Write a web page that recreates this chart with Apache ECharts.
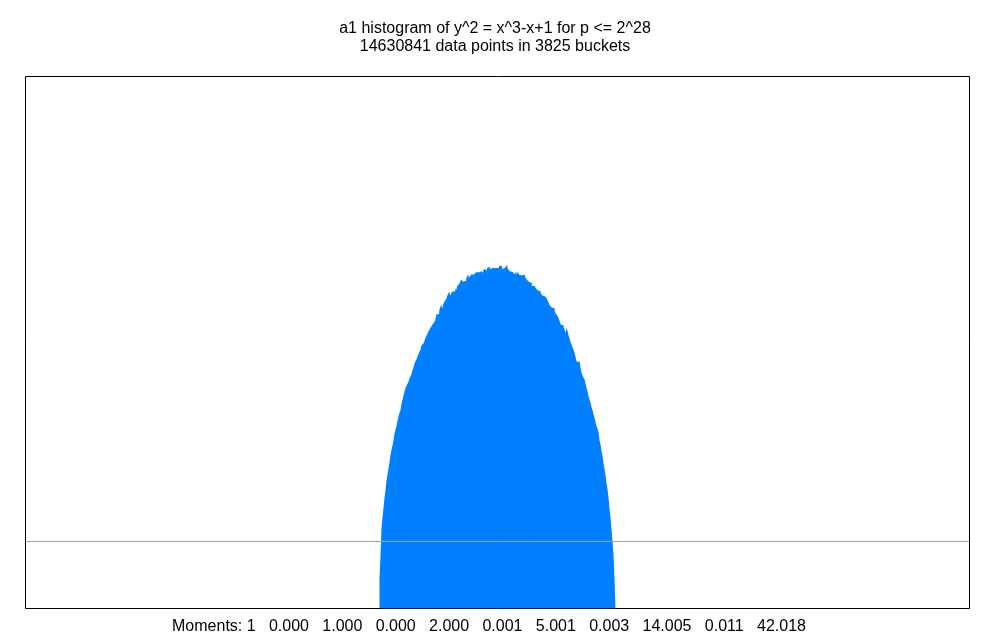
<!DOCTYPE html>
<html>
<head>
<meta charset="utf-8">
<script src="https://cdn.jsdelivr.net/npm/echarts@6/dist/echarts.min.js"></script>
<style>
  html, body { margin: 0; padding: 0; background: #fff; }
  #chart { width: 1000px; height: 640px; }
</style>
</head>
<body>
<div id="chart"></div>
<script>
// histogram range and bucket heights (density)
const bucketLo = -2
const bucketHi = 2
const density = [
  0.028, 0.050, 0.075, 0.086, 0.094, 0.104, 0.111, 0.120, 0.126, 0.131,
  0.137, 0.144, 0.149, 0.153, 0.158, 0.164, 0.168, 0.171, 0.176, 0.180,
  0.184, 0.186, 0.192, 0.192, 0.200, 0.200, 0.207, 0.208, 0.211, 0.213,
  0.216, 0.218, 0.220, 0.224, 0.226, 0.230, 0.231, 0.234, 0.235, 0.239,
  0.241, 0.243, 0.247, 0.248, 0.249, 0.251, 0.254, 0.256, 0.258, 0.260,
  0.262, 0.263, 0.265, 0.266, 0.268, 0.268, 0.271, 0.276, 0.276, 0.277,
  0.280, 0.281, 0.286, 0.282, 0.286, 0.288, 0.289,
  0.291, 0.294, 0.293, 0.298, 0.294, 0.296, 0.298, 0.298, 0.298, 0.301,
  0.299, 0.303, 0.303, 0.305, 0.305, 0.309, 0.309, 0.307, 0.307, 0.308,
  0.310, 0.310, 0.314, 0.311, 0.311, 0.314, 0.313, 0.314, 0.314, 0.314,
  0.316, 0.316, 0.316, 0.316, 0.316, 0.317, 0.315, 0.316, 0.319, 0.319,
  0.318, 0.320, 0.319, 0.321, 0.319, 0.319, 0.320, 0.320, 0.320, 0.320,
  0.320, 0.320, 0.320, 0.322, 0.322, 0.322, 0.319, 0.320, 0.320, 0.319,
  0.320, 0.323, 0.319, 0.318, 0.317, 0.317, 0.316, 0.316, 0.315, 0.314,
  0.317, 0.314, 0.317, 0.314, 0.314, 0.313, 0.313, 0.313, 0.314, 0.312,
  0.311, 0.309, 0.308, 0.307, 0.306, 0.306, 0.303, 0.303, 0.303, 0.303,
  0.301, 0.301, 0.299, 0.299, 0.298, 0.296, 0.295, 0.294, 0.294, 0.293,
  0.292, 0.294, 0.289, 0.289, 0.285, 0.285, 0.283, 0.282, 0.282, 0.279,
  0.277, 0.277, 0.275, 0.275,
  0.270, 0.267, 0.266, 0.266, 0.264, 0.262, 0.259, 0.264, 0.260, 0.256,
  0.253, 0.250, 0.248, 0.245, 0.243, 0.240, 0.236, 0.232, 0.232, 0.232,
  0.232, 0.226, 0.221, 0.219, 0.218, 0.215, 0.211, 0.207, 0.204, 0.199,
  0.196, 0.193, 0.189, 0.186, 0.185, 0.179, 0.175, 0.171, 0.169, 0.166,
  0.158, 0.154, 0.148, 0.143, 0.136, 0.131, 0.125, 0.118, 0.112, 0.104,
  0.094, 0.085, 0.075, 0.063, 0.051, 0.028
]
const refLevel = 0.063
const xRange = [-8, 8]
const yRange = [0, 0.5]

const titleLines = [
  'a1 histogram of y^2 = x^3-x+1 for p <= 2^28',
  '14630841 data points in 3825 buckets'
]
const moments = ['1', '0.000', '1.000', '0.000', '2.000', '0.001', '5.001', '0.003', '14.005', '0.011', '42.018']

// bucket left edges + closing right edge, drawn as a stepped area
const bucketW = (bucketHi - bucketLo) / density.length
const histData = density.map((v, i) => [bucketLo + i * bucketW, v])
histData.push([bucketHi, density[density.length - 1]])

const chart = echarts.init(document.getElementById('chart'))
const font = '16px "Liberation Sans", Arial, sans-serif'

chart.setOption({
  animation: false,
  backgroundColor: '#fff',
  grid: {
    left: 25.5,
    right: 30.5,
    top: 76.5,
    bottom: 31.5,
    show: true,
    borderColor: '#000',
    borderWidth: 1,
    backgroundColor: 'transparent'
  },
  xAxis: {
    type: 'value',
    min: xRange[0],
    max: xRange[1],
    show: false
  },
  yAxis: {
    type: 'value',
    min: yRange[0],
    max: yRange[1],
    show: false
  },
  graphic: [
    {
      type: 'text', x: 495, y: 28.5,
      style: { text: titleLines[0], font: font, fill: '#000', align: 'center', verticalAlign: 'middle' }
    },
    {
      type: 'text', x: 495, y: 46.5,
      style: { text: titleLines[1], font: font, fill: '#000', align: 'center', verticalAlign: 'middle' }
    },
    {
      type: 'text', x: 489, y: 627,
      style: { text: 'Moments: ' + moments.join('   '), font: font, fill: '#000', align: 'center', verticalAlign: 'middle' }
    }
  ],
  series: [
    {
      name: 'hist',
      type: 'line',
      step: 'end',
      symbol: 'none',
      data: histData,
      lineStyle: { width: 0 },
      areaStyle: { color: '#0080ff', opacity: 1 },
      z: 2
    },
    {
      name: 'ref',
      type: 'line',
      symbol: 'none',
      data: [[xRange[0], refLevel], [xRange[1], refLevel]],
      lineStyle: { color: '#a0a0a0', width: 1 },
      z: 3
    }
  ]
})
</script>
</body>
</html>
